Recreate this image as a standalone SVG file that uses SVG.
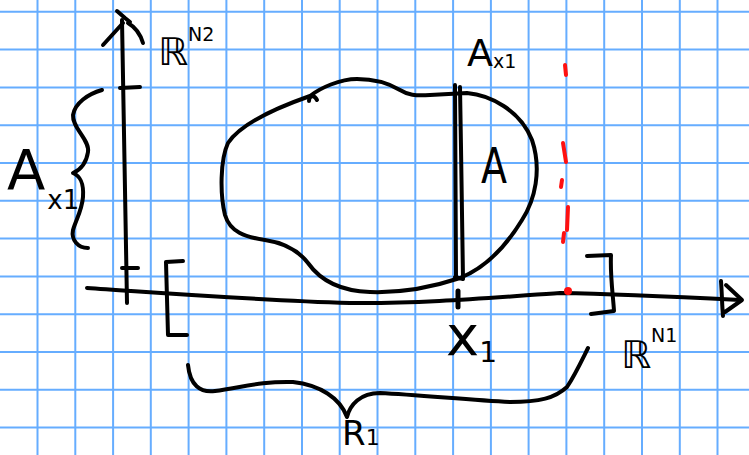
<svg xmlns="http://www.w3.org/2000/svg" width="749" height="455" viewBox="0 0 749 455">
<defs>
<style>
.grid{stroke:#66adff;stroke-width:2;fill:none}
.ink{stroke:#000;stroke-width:4;fill:none;stroke-linecap:round;stroke-linejoin:round}
.red{stroke:#ff1010;stroke-width:4;fill:none;stroke-linecap:round}
.t{font-family:"DejaVu Sans","Liberation Sans",sans-serif;fill:#000}
</style>
</defs>
<rect width="749" height="455" fill="#fff"/>
<g id="grid" class="grid">
<path d="M37.5,0V455M75.3,0V455M113.1,0V455M150.8,0V455M188.6,0V455M226.4,0V455M264.2,0V455M302,0V455M339.7,0V455M377.5,0V455M415.3,0V455M453.1,0V455M490.9,0V455M528.6,0V455M566.4,0V455M604.2,0V455M642,0V455M679.8,0V455M717.5,0V455"/>
<path d="M0,11.8H749M0,49.6H749M0,87.4H749M0,125.2H749M0,163H749M0,200.8H749M0,238.6H749M0,276.4H749M0,314.2H749M0,352H749M0,389.8H749M0,427.6H749"/>
</g>
<g id="axes" class="ink">
<path d="M122,20 L127,303"/>
<path d="M117,11 L125,18 L130,22 M123,23 L103,45 M128,23 C135,27 140,33 143,43"/>
<path d="M120,88 L140,87 M122,268 L138,268"/>
<path d="M87,288 C150,292 250,300 350,303 C420,304 500,297 560,293 C620,294 680,297 740,300"/>
<path d="M721,281 C722,295 722,305 723,316 M726,285 L742,300 L725,312"/>
<path d="M458,291 L458,307" style="stroke-width:5"/>
</g>
<g id="region" class="ink">
<path d="M310,96 C320,88 340,79 357,79 C375,79 390,84 400,90 C408,95 415,96 430,95 L467,93 C490,95 520,110 532,140 C542,170 535,200 522,220 C505,248 485,268 460,278 C430,288 400,293 370,292 C340,291 320,280 308,263 C298,250 285,243 265,240 C245,237 230,232 225,215 C220,195 220,160 228,143 C240,125 270,110 310,96 Z"/>
<path d="M309,101 C309,96 314,94 317,100"/>
<path d="M455,85 L456,277 M460,87 C461,150 462,200 463,279 M455,277 L463,279"/>
</g>
<g id="brackets" class="ink">
<path d="M183,261 L166,262 L168,335 L187,335"/>
<path d="M587,256 L611,255 C610,275 613,295 614,311 L591,314"/>
<path d="M102,90 C88,94 75,103 73,115 C72,128 90,140 88,152 C86,165 80,170 73,173 C80,176 84,182 83,197 C82,210 76,220 73,230 C71,240 78,248 88,248"/>
<path d="M188,365 C190,385 200,393 215,391 C240,388 260,381 293,382 C320,385 340,398 347,417 C350,405 360,393 380,393 C420,395 470,400 510,402 C540,402 555,398 567,387 C575,375 582,360 588,348"/>
</g>
<g id="cut" class="red">
<path d="M565,65 L566,75 M563,143 L566,162 M562,180 L561,187 M568,207 L567,230 M564,233 L563,242"/>
<circle cx="568" cy="291" r="4" fill="#ff1010" stroke="none"/>
</g>
<g id="labels" class="t">
<text x="158" y="65" font-size="38">ℝ<tspan font-size="19" dy="-24">N2</tspan></text>
<text x="621" y="368" font-size="38">ℝ<tspan font-size="19" dy="-26">N1</tspan></text>
<text x="7" y="189" font-size="56">A<tspan font-size="26" dy="20" dx="2">x1</tspan></text>
<text x="467" y="66" font-size="38">A<tspan font-size="19" dy="2">x1</tspan></text>
<text x="481" y="183" font-size="50" textLength="26" lengthAdjust="spacingAndGlyphs">A</text>
<text x="446" y="355" font-size="56">x<tspan font-size="28" dy="7">1</tspan></text>
<text x="342" y="445" font-size="34">R<tspan font-size="22">1</tspan></text>
</g>
</svg>
